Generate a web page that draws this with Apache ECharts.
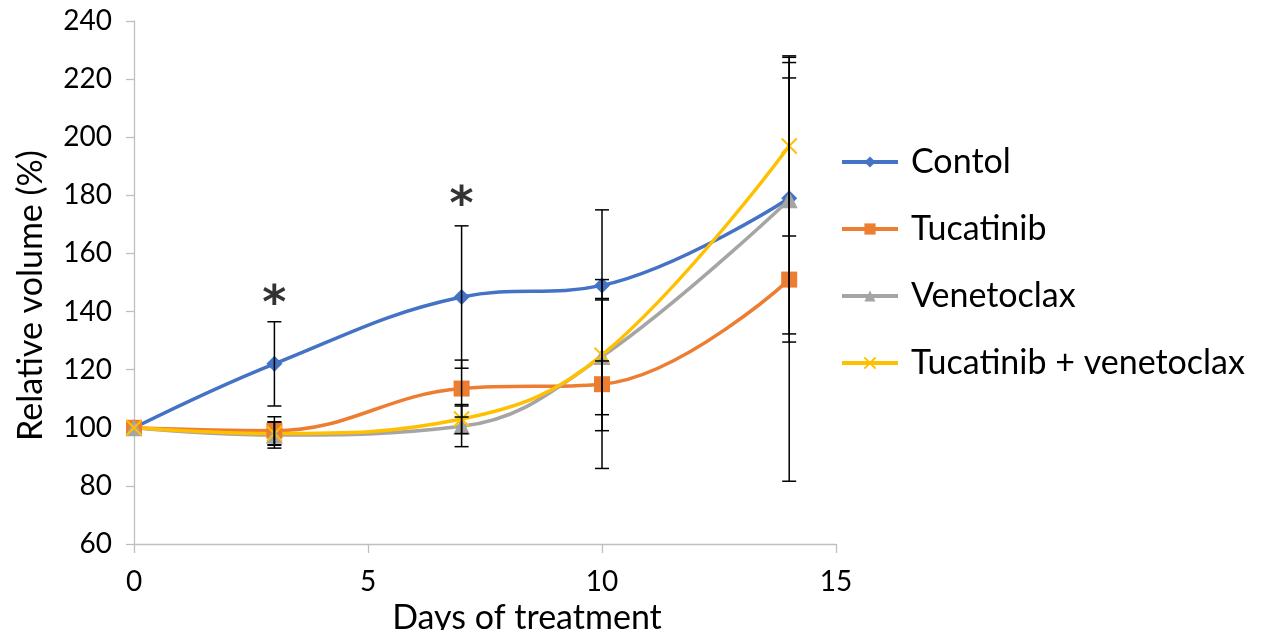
<!DOCTYPE html>
<html><head><meta charset="utf-8">
<script src="https://cdn.jsdelivr.net/npm/echarts@6/dist/echarts.min.js"></script>
<style>html,body{margin:0;padding:0;background:#fff}#c{width:1266px;height:630px}</style>
</head><body><div id="c"></div>
<script>
const days = [0, 3, 7, 10, 14];
const seriesNames = ['Contol', 'Tucatinib', 'Venetoclax', 'Tucatinib + venetoclax'];
const control = [100, 122, 145, 149, 179];
const tucatinib = [100, 99, 113.5, 115, 151];
const venetoclax = [100, 97.5, 100.5, 124.5, 178.5];
const combo = [100, 98, 103, 125, 197];
const controlErr = [0, 14.5, 24.5, 26, 46.7];
const tucatinibErr = [0, 4.8, 9.8, 29, 69.4];
const venetoclaxErr = [0, 4.5, 7, 20, 49];
const comboErr = [0, 4, 5, 26, 31];
const starDays = [3, 7];
const starValues = [142, 176];
const yTicks = {min: 60, max: 240, interval: 20};
const xTicks = {min: 0, max: 15, interval: 5};

const colors = ['#4472C4', '#ED7D31', '#A5A5A5', '#FFC000'];
const values = [control, tucatinib, venetoclax, combo];
const errs = [controlErr, tucatinibErr, venetoclaxErr, comboErr];
const symbols = ['diamond', 'rect', 'triangle', 'path://M0,0L10,10M10,0L0,10'];
const symbolSizes = [16, 16, 17, 15];
const font = 'Lato, "Open Sans", sans-serif';

const lineSeries = seriesNames.map((name, i) => ({
  name, type: 'line', smooth: 0.4,
  data: days.map((d, k) => [d, values[i][k]]),
  symbol: symbols[i], symbolSize: symbolSizes[i],
  lineStyle: {color: colors[i], width: 3.5},
  itemStyle: i === 3 ? {color: colors[i], borderColor: colors[i], borderWidth: 2}
                      : {color: colors[i], borderWidth: 0},
  z: 3
}));

const errData = [];
seriesNames.forEach((n, i) => days.forEach((d, k) => {
  if (errs[i][k] > 0) errData.push([d, values[i][k], errs[i][k]]);
}));

const errSeries = {
  type: 'custom', name: 'err', z: 10, silent: true,
  data: errData,
  encode: {x: 0, y: 1},
  renderItem: function (params, api) {
    const x = api.value(0), y = api.value(1), e = api.value(2);
    const top = api.coord([x, y + e]);
    const bot = api.coord([x, y - e]);
    const hw = 7;
    const st = {stroke: '#000', lineWidth: 1.5};
    return {type: 'group', children: [
      {type: 'line', shape: {x1: top[0], y1: top[1], x2: bot[0], y2: bot[1]}, style: st},
      {type: 'line', shape: {x1: top[0] - hw, y1: top[1], x2: top[0] + hw, y2: top[1]}, style: st},
      {type: 'line', shape: {x1: bot[0] - hw, y1: bot[1], x2: bot[0] + hw, y2: bot[1]}, style: st}
    ]};
  }
};

const starSeries = {
  type: 'scatter', name: 'star', symbolSize: 0, silent: true, z: 11,
  data: starDays.map((d, k) => [d, starValues[k]]),
  label: {show: true, formatter: '*', color: '#000', fontSize: 46, fontFamily: '"DejaVu Sans", sans-serif', position: 'inside', fontWeight: 'bold'}
};

const chart = echarts.init(document.getElementById('c'));
chart.setOption({
  animation: false,
  grid: {left: 134, right: 430, top: 21, bottom: 86, containLabel: false, outerBoundsMode: 'none'},
  xAxis: {
    type: 'value', min: xTicks.min, max: xTicks.max, interval: xTicks.interval,
    name: 'Days of treatment', nameLocation: 'middle', nameGap: 46,
    nameTextStyle: {fontSize: 34, fontFamily: font, color: '#000', padding: [0, 0, 0, 84]},
    axisLine: {show: true, lineStyle: {color: '#BFBFBF', width: 1.3}},
    axisTick: {show: true, length: 9, lineStyle: {color: '#BFBFBF', width: 1.3}},
    axisLabel: {fontSize: 28, fontFamily: font, color: '#000', margin: 24},
    splitLine: {show: false}
  },
  yAxis: {
    type: 'value', min: yTicks.min, max: yTicks.max, interval: yTicks.interval,
    name: 'Relative volume (%)', nameLocation: 'middle', nameGap: 86,
    nameTextStyle: {fontSize: 34, fontFamily: font, color: '#000', padding: [0, 26, 0, 0]},
    axisLine: {show: true, lineStyle: {color: '#BFBFBF', width: 1.3}},
    axisTick: {show: true, length: 8, lineStyle: {color: '#BFBFBF', width: 1.3}},
    axisLabel: {fontSize: 28, fontFamily: font, color: '#000', margin: 22},
    splitLine: {show: false}
  },
  legend: {
    data: seriesNames, orient: 'vertical', left: 835, top: 140,
    itemWidth: 56, itemHeight: 14, itemGap: 33,
    lineStyle: {width: 4},
    textStyle: {fontSize: 34, fontFamily: font, color: '#000', padding: [0, 0, 0, 8]}
  },
  series: [...lineSeries, errSeries, starSeries]
});
</script></body></html>
